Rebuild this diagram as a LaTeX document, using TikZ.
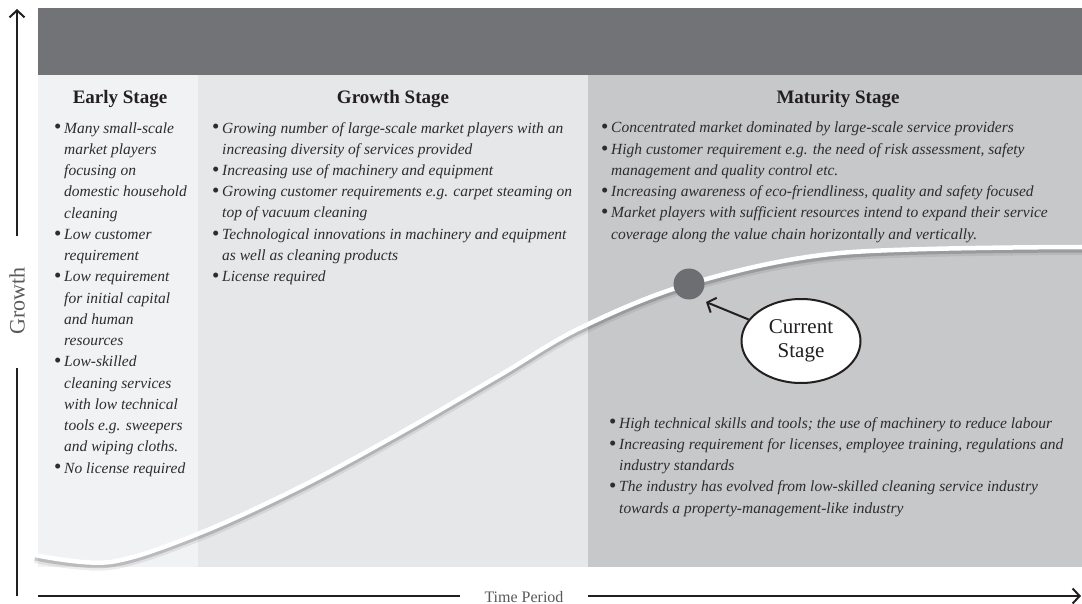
\documentclass[tikz,border=0pt]{standalone}
\usepackage{fontspec}
\setmainfont{Liberation Serif}
\usepackage{graphicx}
\usetikzlibrary{shapes.geometric,arrows.meta}
\definecolor{bandc}{HTML}{727376}
\definecolor{earlyc}{HTML}{F1F2F4}
\definecolor{growthc}{HTML}{E6E7E9}
\definecolor{maturec}{HTML}{C7C8CA}
\definecolor{dotc}{HTML}{6D6E71}
\definecolor{inkc}{HTML}{231F20}
\definecolor{bodyc}{HTML}{2E2C2D}
\definecolor{axlabc}{HTML}{58595B}
\newcommand\bulit{\makebox[10pt][l]{\upshape\raisebox{-0.12ex}{\scalebox{1.35}{•}}}}
\newcommand\indnt{\hspace*{10pt}}
\begin{document}
\begin{tikzpicture}[x=1pt,y=-1pt,
  head/.style={anchor=base, inner sep=0, text=inkc, font=\fontsize{19}{22}\selectfont\bfseries},
  blist/.style={anchor=base west, inner sep=0, align=left, text=bodyc, font=\fontsize{15.5}{21.25}\selectfont\itshape},
  axis/.style={line width=2.6pt, draw=inkc},
  axtip/.style={-{Straight Barb[length=7pt,width=15pt,line width=2pt]}},
  axlab/.style={inner sep=0, text=axlabc}]
\useasboundingbox (0,0) rectangle (1082,604);
% panels
\fill[bandc] (38,8) rectangle (1082,75);
\fill[earlyc] (38,75) rectangle (198,567);
\fill[growthc] (198,75) rectangle (588,567);
\fill[maturec] (588,75) rectangle (1082,567);
% curve with soft shadow
\draw[line width=10pt, black, opacity=0.07, transform canvas={yshift=-3pt}]
  plot[smooth, tension=0.55] coordinates {(35,555) (110,562) (200,533) (300,487) (400,433) (500,375) (580,328) (689,284) (840,253) (1082,247)};
\draw[line width=6pt, black, opacity=0.16, transform canvas={yshift=-2.5pt}]
  plot[smooth, tension=0.55] coordinates {(35,555) (110,562) (200,533) (300,487) (400,433) (500,375) (580,328) (689,284) (840,253) (1082,247)};
\draw[line width=4.5pt, white]
  plot[smooth, tension=0.55] coordinates {(35,555) (110,562) (200,533) (300,487) (400,433) (500,375) (580,328) (689,284) (840,253) (1082,247)};
% headings
\node[head] (hE) at (120,104) {Early Stage};
\node[head] (hG) at (393,104) {Growth Stage};
\node[head] (hM) at (838,104) {Maturity Stage};
% lists (base anchor = baseline of last line)
\node[blist] (lE) at (54,473) {\bulit Many small-scale\\
\indnt market players\\
\indnt focusing on\\
\indnt domestic household\\
\indnt cleaning\\
\bulit Low customer\\
\indnt requirement\\
\bulit Low requirement\\
\indnt for initial capital\\
\indnt and human\\
\indnt resources\\
\bulit Low-skilled\\
\indnt cleaning services\\
\indnt with low technical\\
\indnt tools e.g. sweepers\\
\indnt and wiping cloths.\\
\bulit No license required};
\node[blist] (lG) at (212,281.75) {\bulit Growing number of large-scale market players with an\\
\indnt increasing diversity of services provided\\
\bulit Increasing use of machinery and equipment\\
\bulit Growing customer requirements e.g. carpet steaming on\\
\indnt top of vacuum cleaning\\
\bulit Technological innovations in machinery and equipment\\
\indnt as well as cleaning products\\
\bulit License required};
\node[blist] (lM) at (601,239.25) {\bulit Concentrated market dominated by large-scale service providers\\
\bulit High customer requirement e.g. the need of risk assessment, safety\\
\indnt management and quality control etc.\\
\bulit Increasing awareness of eco-friendliness, quality and safety focused\\
\bulit Market players with sufficient resources intend to expand their service\\
\indnt coverage along the value chain horizontally and vertically.};
\node[blist] (lM2) at (609,513) {\bulit High technical skills and tools; the use of machinery to reduce labour\\
\bulit Increasing requirement for licenses, employee training, regulations and\\
\indnt industry standards\\
\bulit The industry has evolved from low-skilled cleaning service industry\\
\indnt towards a property-management-like industry};
% current stage
\node[circle, fill=dotc, minimum size=31pt, inner sep=0] (dot) at (689,284) {};
\node[ellipse, draw=inkc, line width=2pt, fill=white, minimum width=119pt, minimum height=84pt, inner sep=0, align=center, text=inkc, font=\fontsize{21}{24.5}\selectfont] (cs) at (801,341) {Current\\Stage};
\coordinate (tip) at (706,302);
\draw[line width=2pt, draw=inkc, -{Straight Barb[length=7pt,width=16pt,line width=2pt]}] (cs) -- (tip);
% axes
\coordinate (ya0) at (17,596);
\coordinate (ya1) at (17,368);
\coordinate (ya2) at (17,236);
\coordinate (ya3) at (17,9);
\coordinate (xa0) at (38,596);
\coordinate (xa1) at (460,596);
\coordinate (xa2) at (588,596);
\coordinate (xa3) at (1081,596);
\draw[axis] (ya0) -- (ya1);
\draw[axis, axtip] (ya2) -- (ya3);
\draw[axis] (xa0) -- (xa1);
\draw[axis, axtip] (xa2) -- (xa3);
\node[axlab, rotate=90, font=\fontsize{22}{24}\selectfont] (gl) at (17,301) {Growth};
\node[axlab, anchor=base, font=\fontsize{16}{18}\selectfont] (tl) at (524,602) {Time Period};
\end{tikzpicture}
\end{document}
